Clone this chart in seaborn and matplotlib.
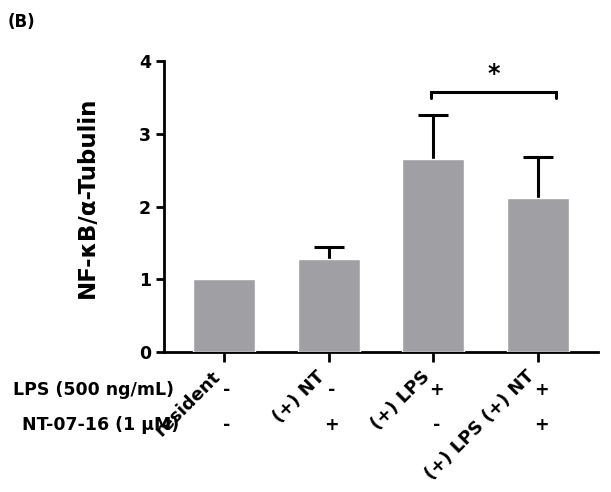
import matplotlib
matplotlib.use("Agg")
import matplotlib.pyplot as plt
import matplotlib.transforms as mtransforms
import seaborn as sns
import pandas as pd
import numpy as np

# ---- data ----
groups = ["resident", "(+) NT", "(+) LPS", "(+) LPS (+) NT"]
means = [1.00, 1.28, 2.65, 2.11]
err_upper = [0.0, 0.17, 0.61, 0.57]
lps_row = ["-", "-", "+", "+"]
nt_row = ["-", "+", "-", "+"]
row_labels = ["LPS (500 ng/mL)", "NT-07-16 (1 \u00b5M)"]
y_ticks = [0, 1, 2, 3, 4]
y_label = "NF-\u03baB/\u03b1-Tubulin"
sig_pair = (2, 3)
sig_text = "*"
panel_label = "(B)"

sns.set_style("ticks")
plt.rcParams["font.family"] = ["DejaVu Sans"]
plt.rcParams["font.weight"] = "bold"
plt.rcParams["text.color"] = "black"
plt.rcParams["axes.labelcolor"] = "black"
plt.rcParams["xtick.color"] = "black"
plt.rcParams["ytick.color"] = "black"

W, H = 611, 492
fig = plt.figure(figsize=(W / 100, H / 100), dpi=100)
ax = fig.add_axes([164 / W, 1 - 352 / H, 434 / W, 291 / H])

df = pd.DataFrame({"group": groups, "value": means})
sns.barplot(data=df, x="group", y="value", color="#a09fa4", saturation=1,
            width=0.59, errorbar=None, ax=ax, zorder=3)

xs = np.arange(len(groups))
m = np.array(means)
e = np.array(err_upper)
sel = e > 0
eb = ax.errorbar(xs[sel], m[sel], yerr=[np.zeros(sel.sum()), e[sel]], fmt="none",
                 ecolor="black", elinewidth=2.2, capsize=11, capthick=2.2, zorder=2)
for cl in eb[1]:
    if np.allclose(cl.get_ydata(), m[sel]):
        cl.set_visible(False)

ax.set_xlim(-0.57, len(groups) - 1 + 0.57)
ax.set_ylim(0, 4)
ax.set_yticks(y_ticks)
ax.set_yticklabels([str(t) for t in y_ticks])
sns.despine(ax=ax)
for s in ["left", "bottom"]:
    ax.spines[s].set_linewidth(2.0)
    ax.spines[s].set_color("black")
ax.tick_params(axis="both", direction="out", length=6, width=2.0, colors="black",
               labelcolor="black", labelsize=12.5)
ax.tick_params(axis="x", length=7, pad=4)
ax.set_xlabel("")
ax.set_xticks(xs)
ax.set_xticklabels(groups, rotation=45, ha="right", fontsize=13, fontweight="bold",
                   color="black")
for lbl in ax.get_yticklabels():
    lbl.set_fontweight("bold")
    lbl.set_color("black")

ax.set_ylabel(y_label, fontsize=16.5, fontweight="bold", color="black")
ax.yaxis.set_label_coords(-0.177, 0.53)
ax.yaxis.label.set_va("center")

# significance bracket
a, b = sig_pair
top = 3.58
ax.plot([a - 0.02, a - 0.02, b + 0.17, b + 0.17], [3.49, top, top, 3.49],
        color="black", lw=2.2, clip_on=False, solid_joinstyle="miter")
ax.text((a - 0.02 + b + 0.17) / 2, top + 0.07, sig_text, ha="center", va="bottom",
        fontsize=17, fontweight="bold", color="black")

# treatment rows
trans = mtransforms.blended_transform_factory(ax.transData, fig.transFigure)
row_y = [1 - 390 / H, 1 - 425 / H]
for ry, row in zip(row_y, [lps_row, nt_row]):
    for i, sym in enumerate(row):
        ax.text(i + 0.03, ry, sym, transform=trans, ha="center", va="center",
                fontsize=12.5, fontweight="bold", zorder=1, color="black")
fig.text(13 / W, row_y[0], row_labels[0], ha="left", va="center",
         fontsize=12.5, fontweight="bold", color="black")
fig.text(22 / W, row_y[1], row_labels[1], ha="left", va="center",
         fontsize=12.5, fontweight="bold", color="black")

fig.text(8 / W, 1 - 22 / H, panel_label, ha="left", va="center",
         fontsize=12, fontweight="bold", color="black")

fig.savefig("out.png", dpi=100)
